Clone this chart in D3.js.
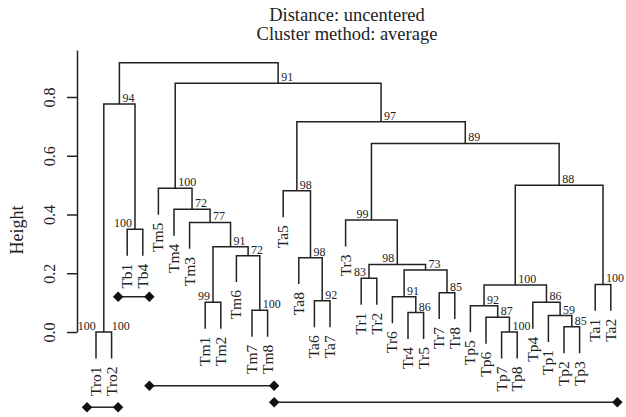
<!DOCTYPE html>
<html>
<head>
<meta charset="utf-8">
<script src="https://cdn.jsdelivr.net/npm/d3@7"></script>
<style>
  body { margin: 0; background: #fff; }
  svg text { font-family: "Liberation Serif", "Times New Roman", serif !important; fill: #222; }
</style>
</head>
<body>
<div id="chart"></div>
<script>
// leaf order as drawn, left to right
var leaves = ["Tro1","Tro2","Tb1","Tb4","Tm5","Tm4","Tm3","Tm1","Tm2","Tm6","Tm7","Tm8",
              "Ta5","Ta8","Ta6","Ta7","Tr3","Tr1","Tr2","Tr6","Tr4","Tr5","Tr7","Tr8",
              "Tp5","Tp6","Tp7","Tp8","Tp4","Tp1","Tp2","Tp3","Ta1","Ta2"];

// merges: leaf names or 1-based merge numbers (like hclust$merge)
var merges = [
  ["Tro1","Tro2"], ["Tb1","Tb4"], [1, 2],
  ["Tm1","Tm2"], ["Tm7","Tm8"], ["Tm6", 5], [4, 6], ["Tm3", 7], ["Tm4", 8], ["Tm5", 9],
  ["Ta6","Ta7"], ["Ta8", 11], ["Ta5", 12],
  ["Tr1","Tr2"], ["Tr4","Tr5"], ["Tr6", 15], ["Tr7","Tr8"], [16, 17], [14, 18], ["Tr3", 19],
  ["Tp7","Tp8"], ["Tp6", 21], ["Tp5", 22], ["Tp2","Tp3"], ["Tp1", 24], ["Tp4", 25], [23, 26],
  ["Ta1","Ta2"], [27, 28], [20, 29], [13, 30], [10, 31], [3, 32]
];
var heights = [0.0, 0.35, 0.776,
  0.101, 0.074, 0.26, 0.29, 0.373, 0.418, 0.489,
  0.106, 0.253, 0.481,
  0.183, 0.066, 0.12, 0.134, 0.211, 0.23, 0.381,
  0.0, 0.05, 0.089, 0.018, 0.056, 0.101, 0.16,
  0.162, 0.5, 0.642, 0.716, 0.847, 0.917];
var support = ["100","100","94",
  "99","100","72","91","77","72","100",
  "92","98","98",
  "83","86","91","85","73","98","99",
  "100","87","92","85","59","86","100",
  "100","88","89","97","91",""];
var supportSide = ["both","left","right",
  "left","right","right","right","right","right","right",
  "right","right","right",
  "left","right","right","right","right","left","left",
  "right","right","right","right","right","right","right",
  "right","right","right","right","right","right"];

// group brackets under the tree
var groupFrom = ["Tro1","Tb1","Tm5","Ta5"];
var groupTo = ["Tro2","Tb4","Tm8","Ta2"];
var groupLevel = [-0.256, 0.12, -0.183, -0.239];

var yTicks = [0, 0.2, 0.4, 0.6, 0.8];
var hang = 0.09;

var width = 626, height = 417;

var svg = d3.select("#chart").append("svg")
    .attr("width", width)
    .attr("height", height)
    .style("font-family", "'Liberation Serif', serif");

var x = d3.scalePoint().domain(leaves).range([96, 610.8]);
var y = d3.scaleLinear().domain([0, 0.96]).range([332, 50]);

// title
svg.append("text").attr("x", 347).attr("y", 21)
    .attr("text-anchor", "middle").style("font-size", "18.5px")
    .text("Distance: uncentered");
svg.append("text").attr("x", 347).attr("y", 40)
    .attr("text-anchor", "middle").style("font-size", "18.5px")
    .text("Cluster method: average");

// y axis
var axis = svg.append("g")
    .attr("transform", "translate(77,0)")
    .call(d3.axisLeft(y).tickValues(yTicks).tickSize(10).tickSizeOuter(0));
axis.attr("font-family", null).attr("font-size", null);
axis.select(".domain").attr("stroke", "#222").attr("stroke-width", 1.5);
axis.selectAll(".tick line").attr("stroke", "#222").attr("stroke-width", 1.5);
axis.selectAll(".tick text").remove();
axis.selectAll(".tick").append("text")
    .attr("transform", "translate(-22,0) rotate(-90)")
    .attr("text-anchor", "middle")
    .style("font-size", "16px")
    .text(function (d) { return d3.format(".1f")(d); });

svg.append("text")
    .attr("transform", "translate(23,230) rotate(-90)")
    .attr("text-anchor", "middle")
    .style("font-size", "18px")
    .text("Height");

// node positions
var nodeX = [];
function childX(c) { return typeof c === "string" ? x(c) : nodeX[c - 1]; }
merges.forEach(function (m, i) {
    nodeX[i] = (childX(m[0]) + childX(m[1])) / 2;
});

var leafEnd = {};
var segs = [];
merges.forEach(function (m, i) {
    var h = heights[i];
    var ends = m.map(function (c) {
        if (typeof c === "string") {
            leafEnd[c] = h - hang;
            return [x(c), h - hang];
        }
        return [nodeX[c - 1], heights[c - 1]];
    });
    segs.push([[ends[0][0], y(ends[0][1])], [ends[0][0], y(h)], [ends[1][0], y(h)], [ends[1][0], y(ends[1][1])]]);
});

var line = d3.line();
svg.append("g").selectAll("path")
    .data(segs)
    .enter()
    .append("path")
    .attr("d", line)
    .attr("fill", "none")
    .attr("stroke", "#222")
    .attr("stroke-width", 1.5);

// support labels
var lab = svg.append("g").style("font-size", "12px");
merges.forEach(function (m, i) {
    if (!support[i]) return;
    var side = supportSide[i];
    var yy = y(heights[i]) - 2;
    if (side === "right" || side === "both") {
        lab.append("text").attr("x", nodeX[i] + (side === "both" ? 8 : 3)).attr("y", yy)
            .attr("text-anchor", "start").text(support[i]);
    }
    if (side === "left" || side === "both") {
        lab.append("text").attr("x", nodeX[i] - (side === "both" ? 8 : 3)).attr("y", yy)
            .attr("text-anchor", "end").text(support[i]);
    }
});

// leaf labels
svg.append("g").selectAll("text")
    .data(leaves)
    .enter()
    .append("text")
    .attr("transform", function (d) {
        return "translate(" + (x(d) + 5) + "," + (y(leafEnd[d]) + 8) + ") rotate(-90)";
    })
    .attr("text-anchor", "end")
    .style("font-size", "15.5px")
    .text(function (d) { return d; });

// group brackets
var groups = svg.append("g");
groupFrom.forEach(function (f, i) {
    var x0 = x(f) - 9, x1 = x(groupTo[i]) + 6.5, gy = y(groupLevel[i]);
    groups.append("line")
        .attr("x1", x0).attr("x2", x1).attr("y1", gy).attr("y2", gy)
        .attr("stroke", "#222").attr("stroke-width", 1.5);
    [x0, x1].forEach(function (px) {
        groups.append("path")
            .attr("d", d3.symbol().type(d3.symbolDiamond2).size(70)())
            .attr("transform", "translate(" + px + "," + gy + ")")
            .attr("fill", "#111");
    });
});
</script>
</body>
</html>
